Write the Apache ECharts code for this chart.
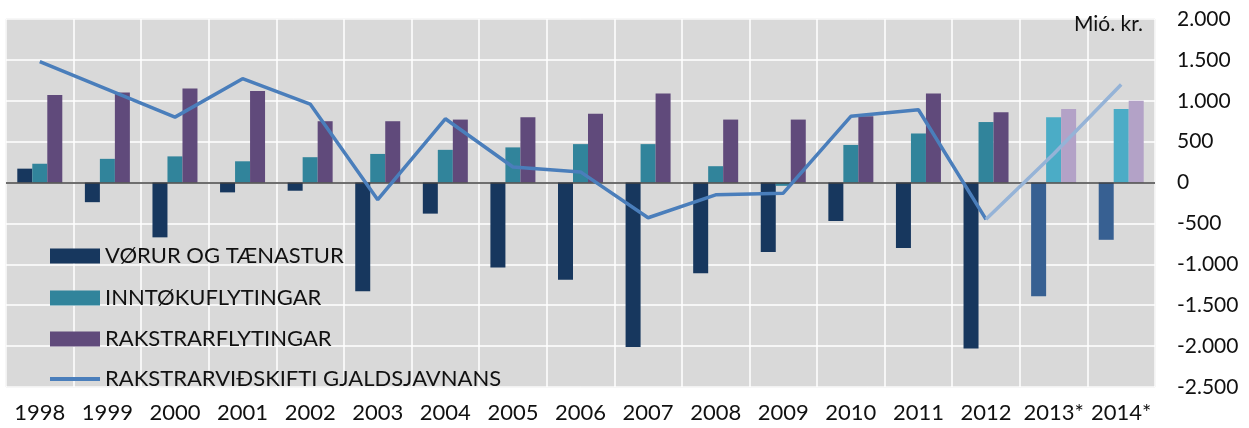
<!DOCTYPE html>
<html>
<head>
<meta charset="utf-8">
<script src="https://cdn.jsdelivr.net/npm/echarts@6/dist/echarts.min.js"></script>
<style>
html,body{margin:0;padding:0;background:#fff;}
#chart{width:1249px;height:428px;}
</style>
</head>
<body>
<div id="chart"></div>
<script>
const years = ['1998','1999','2000','2001','2002','2003','2004','2005','2006','2007','2008','2009','2010','2011','2012','2013*','2014*'];
const vorur = [170,-240,-670,-120,-100,-1330,-380,-1040,-1190,-2010,-1110,-850,-470,-800,-2030,-1390,-700];
const inntoku = [230,290,320,260,310,350,400,430,470,470,200,-40,460,600,740,800,900];
const rakstrar = [1070,1100,1150,1120,750,750,770,800,840,1090,770,770,810,1090,860,900,1000];
const gjaldsjavn = [1480,1140,800,1270,960,-210,780,190,130,-430,-150,-130,810,890,-450,350,1200];
const yTicks = [-2500,-2000,-1500,-1000,-500,0,500,1000,1500,2000];
const names = ['VØRUR OG TÆNASTUR','INNTØKUFLYTINGAR','RAKSTRARFLYTINGAR','RAKSTRARVIÐSKIFTI GJALDSJAVNANS'];
const firstForecast = 15; // index of 2013*

const FONT = 'Lato';
function withForecast(arr, base, light){
  return arr.map((v,i)=> i>=firstForecast ? {value:v, itemStyle:{color:light}} : {value:v, itemStyle:{color:base}});
}
function fmt(v){
  const s = Math.abs(v).toString().replace(/\B(?=(\d{3})+(?!\d))/g,'.');
  return (v<0?'-':'')+s;
}
const lineMain = gjaldsjavn.map((v,i)=> i<firstForecast ? v : null);
const lineFc = gjaldsjavn.map((v,i)=> i>=firstForecast-1 ? v : null);

const chart = echarts.init(document.getElementById('chart'), null, {renderer:'canvas'});
const legendTops = [245, 287, 328, 368];
const legendColors = ['#17375E','#31849B','#604A7B','#4A7EBB'];
const option = {
  animation:false,
  backgroundColor:'#ffffff',
  grid:{left:6,right:94,top:19,bottom:41,show:true,backgroundColor:'#D9D9D9',borderColor:'#BFBFBF',borderWidth:1},
  legend: names.map((n,i)=>({
    data:[{name:n, icon:'rect', itemStyle:{color:legendColors[i]}}], left:50, top:legendTops[i], orient:'vertical', padding:0,
    itemWidth:50, itemHeight: i===3 ? 4 : 15, itemGap:0, selectedMode:false,
    textStyle:{fontFamily:FONT,fontSize:22,color:'#111111',lineHeight:22}
  })),
  xAxis:{
    type:'category', data:years, boundaryGap:true,
    axisLine:{show:false,onZero:false}, axisTick:{show:false},
    axisLabel:{fontFamily:FONT,fontSize:22,color:'#111111',margin:15,interval:0},
    splitLine:{show:true,interval:0,lineStyle:{color:'#ffffff',width:1.5}}
  },
  yAxis:{
    type:'value', position:'right', min:-2500, max:2000, interval:500,
    axisLine:{show:false}, axisTick:{show:false},
    axisLabel:{fontFamily:FONT,fontSize:21,color:'#111111',margin:22,formatter:fmt,
      customValues: yTicks},
    splitLine:{show:true,lineStyle:{color:'#ffffff',width:1.5}}
  },
  graphic:[{type:'text',right:106,top:14,z:100,style:{text:'Mió. kr.',font:'21px '+FONT,fill:'#111111'}}],
  series:[
    {name:names[0],type:'bar',barWidth:15,barGap:'0%',data:withForecast(vorur,'#17375E','#376092'),itemStyle:{color:'#17375E'},
      markLine:{silent:true,symbol:'none',label:{show:false},lineStyle:{color:'#404040',width:1.5,type:'solid'},data:[{yAxis:0}],z:3}},
    {name:names[1],type:'bar',barWidth:15,barGap:'0%',data:withForecast(inntoku,'#31849B','#4BACC6'),itemStyle:{color:'#31849B'}},
    {name:names[2],type:'bar',barWidth:15,barGap:'0%',data:withForecast(rakstrar,'#604A7B','#B3A2C7'),itemStyle:{color:'#604A7B'}},
    {name:names[3],type:'line',data:lineMain,symbol:'none',z:5,lineStyle:{color:'#4A7EBB',width:3.5},itemStyle:{color:'#4A7EBB'}},
    {name:'prognosa',type:'line',data:lineFc,symbol:'none',z:5,lineStyle:{color:'#95B3D7',width:3.5},itemStyle:{color:'#95B3D7'}}
  ]
};
chart.setOption(option);
</script>
</body>
</html>
